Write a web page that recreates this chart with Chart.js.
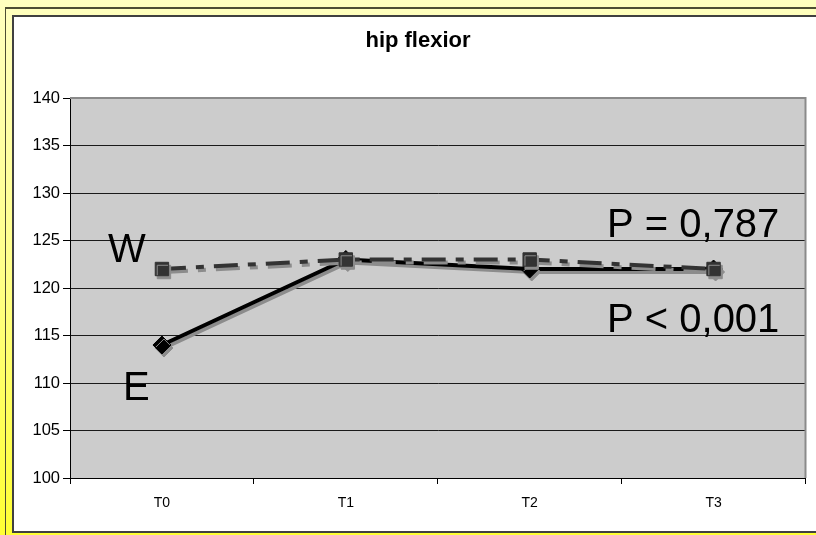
<!DOCTYPE html>
<html>
<head>
<meta charset="utf-8">
<script src="https://cdn.jsdelivr.net/npm/chart.js@4.4.1/dist/chart.umd.min.js"></script>
<style>
  html, body { margin: 0; padding: 0; }
  body {
    width: 816px; height: 535px; overflow: hidden; position: relative;
    background: linear-gradient(to bottom, #ffffbf 0%, #ffff8a 50%, #ffff33 100%);
  }
  #outer {
    position: absolute; left: 5px; top: 7px; width: 900px; height: 600px;
    border-left: 1px solid #4d4d33; border-top: 2px solid #4d4d33;
  }
  #panel {
    position: absolute; left: 12px; top: 15px; width: 900px; height: 514px;
    border: 2px solid #404040; background: #ffffff;
  }
  #chart { position: absolute; left: 0; top: 0; }
</style>
</head>
<body>
<div id="outer"></div>
<div id="panel"></div>
<canvas id="chart" width="816" height="535"></canvas>
<script>
const categories = ['T0', 'T1', 'T2', 'T3'];
const eValues = [114, 123, 122, 122];
const wValues = [122, 123, 123, 122];
const yMin = 100;
const yMax = 140;
const yStep = 5;
const chartTitle = 'hip flexior';
const notes = [
    { text: 'W', x: 108, y: 262 },
    { text: 'E', x: 123, y: 400 },
    { text: 'P = 0,787', x: 607, y: 237 },
    { text: 'P < 0,001', x: 607, y: 332 }
];

// grey plot background + frame
const plotBack = {
    id: 'plotBack',
    beforeDraw(chart) {
        const a = chart.chartArea;
        const ctx = chart.ctx;
        ctx.save();
        ctx.fillStyle = '#cccccc';
        ctx.fillRect(a.left, a.top, a.right - a.left, a.bottom - a.top);
        ctx.restore();
    },
    afterDatasetsDraw(chart) {
        const a = chart.chartArea;
        const ctx = chart.ctx;
        ctx.save();
        ctx.strokeStyle = '#8a8a8a';
        ctx.lineWidth = 2;
        ctx.beginPath();
        ctx.moveTo(a.left, a.top);
        ctx.lineTo(a.right, a.top);
        ctx.lineTo(a.right, a.bottom);
        ctx.stroke();
        ctx.restore();
    }
};

// grey drop shadow under lines and markers
const shadow = {
    id: 'shadow',
    beforeDatasetDraw(chart) {
        const ctx = chart.ctx;
        ctx.save();
        ctx.shadowColor = '#8c8c8c';
        ctx.shadowOffsetX = 2;
        ctx.shadowOffsetY = 3;
        ctx.shadowBlur = 0;
    },
    afterDatasetDraw(chart) {
        chart.ctx.restore();
    }
};

// title and free labels
const labels = {
    id: 'labels',
    afterDraw(chart) {
        const ctx = chart.ctx;
        ctx.save();
        ctx.fillStyle = '#000';
        ctx.font = 'bold 22px "Liberation Sans", Arial, sans-serif';
        ctx.textAlign = 'center';
        ctx.textBaseline = 'alphabetic';
        ctx.fillText(chartTitle, 418, 47);
        ctx.textAlign = 'left';
        ctx.font = '40px "Liberation Sans", Arial, sans-serif';
        notes.forEach(n => ctx.fillText(n.text, n.x, n.y));
        ctx.restore();
    }
};

new Chart(document.getElementById('chart'), {
    type: 'line',
    data: {
        labels: categories,
        datasets: [{
            label: 'E',
            data: eValues,
            borderColor: '#000000',
            backgroundColor: '#000000',
            borderWidth: 4,
            pointStyle: 'rectRot',
            pointRadius: 9,
            pointBorderWidth: 1,
            tension: 0,
            order: 2
        }, {
            label: 'W',
            data: wValues,
            borderColor: '#333333',
            backgroundColor: '#333333',
            borderWidth: 4,
            borderDash: [24, 10, 8, 10],
            pointStyle: 'rect',
            pointRadius: 9.5,
            pointBorderWidth: 1,
            tension: 0,
            order: 1
        }]
    },
    options: {
        responsive: false,
        animation: false,
        layout: { padding: { top: 98, right: 10, left: 0, bottom: 0 } },
        plugins: {
            legend: { display: false },
            title: { display: false },
            tooltip: { enabled: false }
        },
        scales: {
            x: {
                offset: true,
                afterFit: (s) => { s.height = 57; },
                grid: {
                    offset: true,
                    drawOnChartArea: false,
                    color: '#000',
                    tickLength: 6
                },
                border: { color: '#000', width: 1 },
                ticks: {
                    color: '#000',
                    padding: 11,
                    font: { family: '"Liberation Sans", Arial', size: 14 }
                }
            },
            y: {
                min: yMin,
                max: yMax,
                afterFit: (s) => { s.width = 70; },
                grid: {
                    color: (c) => c.tick && c.tick.value === yMax ? 'rgba(0,0,0,0)' : '#1a1a1a',
                    tickColor: '#000',
                    tickLength: 7
                },
                border: { color: '#000', width: 1 },
                ticks: {
                    stepSize: yStep,
                    color: '#000',
                    padding: 3,
                    font: { family: '"Liberation Sans", Arial', size: 16.5 }
                }
            }
        }
    },
    plugins: [plotBack, shadow, labels]
});
</script>
</body>
</html>
